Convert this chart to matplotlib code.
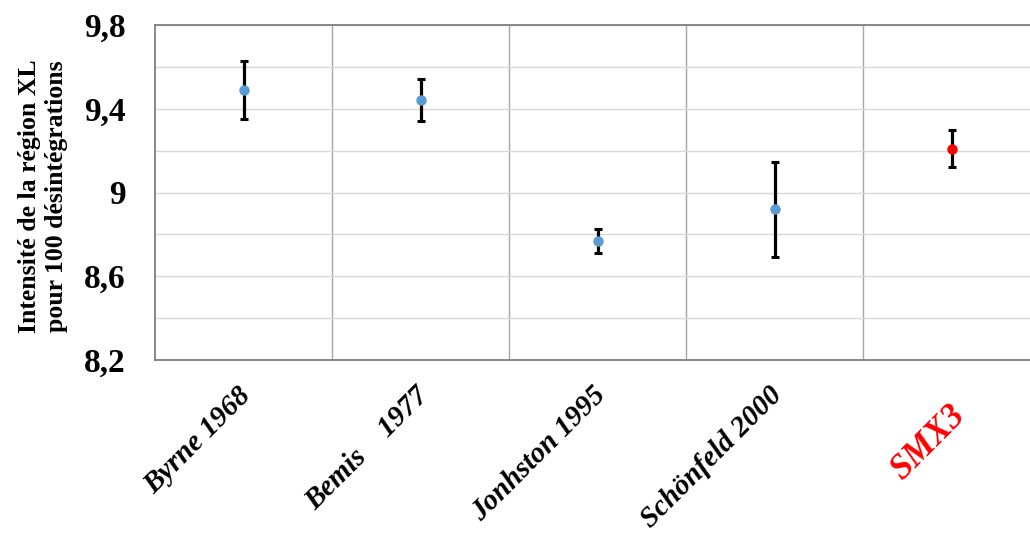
import matplotlib
matplotlib.use("Agg")
import matplotlib.pyplot as plt
import numpy as np
from matplotlib.transforms import ScaledTranslation
from matplotlib.ticker import MultipleLocator

categories = ["Byrne 1968", "Bemis    1977", "Jonhston 1995", "Schönfeld 2000", "SMX3"]
values = [9.49, 9.44, 8.77, 8.92, 9.21]
errors = [0.14, 0.10, 0.058, 0.228, 0.09]
point_colors = ["#5B9BD5", "#5B9BD5", "#5B9BD5", "#5B9BD5", "#FF0000"]
label_colors = ["black", "black", "black", "black", "#FF0000"]
ytick_values = [8.2, 8.6, 9.0, 9.4, 9.8]
ytick_labels = ["8,2", "8,6", "9", "9,4", "9,8"]
ylabel_text = "Intensité de la région XL\npour 100 désintégrations"

W, H = 1030, 536
fig = plt.figure(figsize=(W / 100, H / 100), dpi=100)
left, right, top, bottom = 155, 1030, 25, 360
ax = fig.add_axes([left / W, 1 - bottom / H, (right - left) / W, (bottom - top) / H])

x = np.arange(len(categories))
for xi, v, e, c in zip(x, values, errors, point_colors):
    ax.errorbar(xi, v, yerr=e, fmt="o", color=c, markersize=6.5, ecolor="black",
                elinewidth=2.3, capsize=3.0, capthick=2.2, zorder=3,
                markeredgecolor=c)

cat_w = 177
ax.set_xlim(-0.5, -0.5 + (right - left) / cat_w)
ax.set_ylim(8.2, 9.8)

ax.set_yticks(ytick_values)
ax.set_yticklabels(ytick_labels)
ax.yaxis.set_minor_locator(MultipleLocator(0.2))
ax.grid(True, axis="y", which="both", color="#d9d9d9", linewidth=1.0, zorder=0)
for b in np.arange(len(categories) - 1) + 0.5:
    ax.axvline(b, color="#a6a6a6", linewidth=1.0, zorder=0)
ax.set_axisbelow(True)

for s in ["left", "bottom", "top"]:
    ax.spines[s].set_color("#7f7f7f")
    ax.spines[s].set_linewidth(1.3)
ax.spines["right"].set_visible(False)

ax.tick_params(axis="y", which="both", length=0, pad=21)
ax.tick_params(axis="x", length=0, pad=2)
for lab in ax.get_yticklabels():
    lab.set_fontfamily("Liberation Serif")
    lab.set_fontweight("bold")
    lab.set_fontsize(24)

ax.set_xticks(x)
ax.set_xticklabels(categories)
for i, lab in enumerate(ax.get_xticklabels()):
    lab.set_fontfamily("Liberation Serif")
    lab.set_fontweight("bold")
    lab.set_fontstyle("italic")
    lab.set_fontsize(21 if i < 4 else 25)
    lab.set_color(label_colors[i])
    lab.set_rotation(45)
    lab.set_rotation_mode("anchor")
    lab.set_ha("right")
    lab.set_va("top")
    dx, dy = (-6, -19) if i < 4 else (-3, -36)
    lab.set_transform(lab.get_transform() + ScaledTranslation(dx / 100, dy / 100, fig.dpi_scale_trans))

fig.text(43 / W, 1 - 196 / H, ylabel_text, rotation=90, ha="center", va="center",
         fontfamily="Liberation Serif", fontweight="bold", fontsize=18.5, linespacing=1.2)

fig.savefig("out.png", dpi=100)
